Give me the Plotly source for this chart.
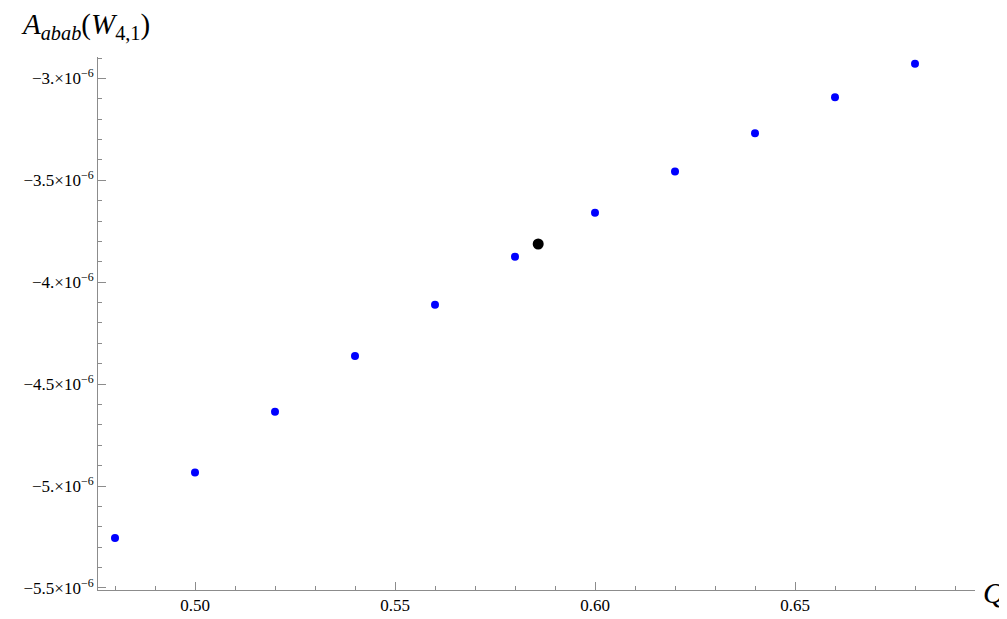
import plotly.graph_objects as go

# data
q_values = [0.48, 0.50, 0.52, 0.54, 0.56, 0.58, 0.60, 0.62, 0.64, 0.66, 0.68]
a_values = [-5.255e-6, -4.933e-6, -4.635e-6, -4.362e-6, -4.111e-6, -3.875e-6,
            -3.659e-6, -3.457e-6, -3.269e-6, -3.093e-6, -2.928e-6]
special_q = [0.5858]
special_a = [-3.8125e-6]

x_tickvals = [0.50, 0.55, 0.60, 0.65]
x_ticktext = ['0.50', '0.55', '0.60', '0.65']
y_tickvals = [-3.0e-6, -3.5e-6, -4.0e-6, -4.5e-6, -5.0e-6, -5.5e-6]
y_ticktext = ['\u22123.\u00d710<sup>\u22126</sup>', '\u22123.5\u00d710<sup>\u22126</sup>',
              '\u22124.\u00d710<sup>\u22126</sup>', '\u22124.5\u00d710<sup>\u22126</sup>',
              '\u22125.\u00d710<sup>\u22126</sup>', '\u22125.5\u00d710<sup>\u22126</sup>']

font_name = 'Liberation Serif, Times New Roman, serif'
axis_grey = '#8c8c8c'

fig = go.Figure()

fig.add_trace(go.Scatter(x=q_values, y=a_values, mode='markers',
                         marker=dict(color='#0000ff', size=8), showlegend=False))
fig.add_trace(go.Scatter(x=special_q, y=special_a, mode='markers',
                         marker=dict(color='black', size=11), showlegend=False))

fig.update_layout(
    width=1007, height=619,
    margin=dict(l=90, r=40, t=49, b=26),
    plot_bgcolor='white', paper_bgcolor='white',
    font=dict(family=font_name, size=17, color='black'),
)

fig.update_xaxes(
    range=[0.47575, 0.695],
    showgrid=False, zeroline=False,
    showline=True, linecolor=axis_grey, linewidth=1,
    tickmode='array', tickvals=x_tickvals, ticktext=x_ticktext,
    tickfont=dict(family=font_name, size=17, color='black'),
    ticks='inside', ticklen=8, tickcolor=axis_grey,
    minor=dict(dtick=0.01, tick0=0.48, ticks='inside', ticklen=4, tickcolor=axis_grey),
)

fig.update_yaxes(
    range=[-5.51e-6, -2.895e-6],
    showgrid=False, zeroline=False,
    showline=True, linecolor=axis_grey, linewidth=1,
    tickmode='array', tickvals=y_tickvals, ticktext=y_ticktext,
    tickfont=dict(family=font_name, size=17, color='black'),
    ticks='inside', ticklen=8, tickcolor=axis_grey,
    minor=dict(dtick=1e-7, tick0=0, ticks='inside', ticklen=4, tickcolor=axis_grey),
)

fig.add_annotation(text='<i>A</i><sub><i>abab</i></sub>(<i>W</i><sub>4,1</sub>)',
                   xref='paper', yref='paper', x=-0.09, y=1.02,
                   xanchor='left', yanchor='bottom', showarrow=False,
                   font=dict(family=font_name, size=29))
fig.add_annotation(text='<i>Q</i>',
                   xref='paper', yref='paper', x=1.0, y=0.0,
                   xanchor='left', yanchor='middle', xshift=6, yshift=-2,
                   showarrow=False,
                   font=dict(family=font_name, size=30))

fig.write_html('out.html')
